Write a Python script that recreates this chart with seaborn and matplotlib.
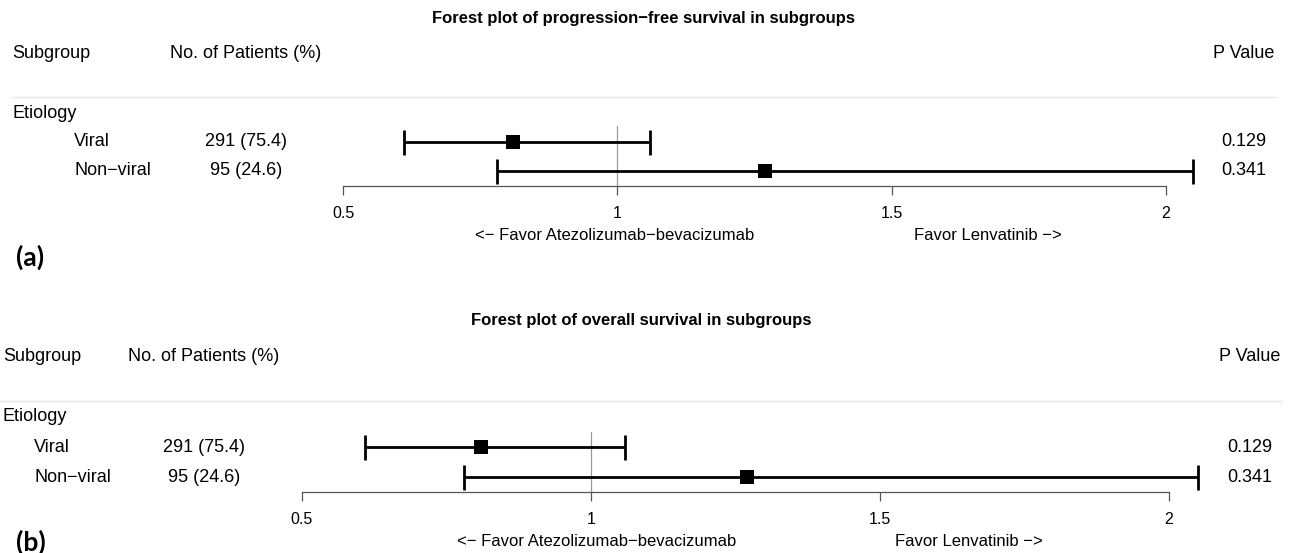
import matplotlib
matplotlib.use("Agg")
import matplotlib.pyplot as plt
from matplotlib.lines import Line2D
import numpy as np
import pandas as pd
import seaborn as sns

W, H = 1293, 553

# ---- data -------------------------------------------------------------
group_label = "Etiology"
subgroups = ["Viral", "Non−viral"]
patients = ["291 (75.4)", "95 (24.6)"]
p_values = ["0.129", "0.341"]

pfs_hr = [0.81, 1.27]
pfs_lo = [0.61, 0.78]
pfs_hi = [1.06, 2.05]

os_hr = [0.81, 1.27]
os_lo = [0.61, 0.78]
os_hi = [1.06, 2.05]

x_ticks = [0.5, 1, 1.5, 2]
x_tick_labels = ["0.5", "1", "1.5", "2"]

titles = ["Forest plot of progression−free survival in subgroups",
          "Forest plot of overall survival in subgroups"]
panel_tags = ["(a)", "(b)"]

# ---- layout (figure pixels, measured from the top-left corner) ---------
panels = [
    dict(hr=pfs_hr, lo=pfs_lo, hi=pfs_hi,
         title_x=644, title_y=18, head_y=53, sep_y=97, sep_x=(12, 1276),
         rows=[113, 141.7, 170.7], axis_y=185.7, x_lo=343.3, x_hi=1165.7,
         col_group=12, col_sub=74, col_n=246, col_p=1243.5,
         favor_y=235, favor_l=614.5, favor_r=987.5, tag=(16, 257), ref_top=126),
    dict(hr=os_hr, lo=os_lo, hi=os_hi,
         title_x=641.5, title_y=320, head_y=356.7, sep_y=400.5, sep_x=(0, 1282),
         rows=[416.7, 447, 477.3], axis_y=491.7, x_lo=301.7, x_hi=1169,
         col_group=3, col_sub=34.3, col_n=204, col_p=1250,
         favor_y=541.7, favor_l=597, favor_r=969, tag=(16, 542), ref_top=431.7),
]

sns.set_theme(style="white")
plt.rcParams["font.family"] = ["Liberation Sans", "DejaVu Sans"]

fig = plt.figure(figsize=(W / 100, H / 100), dpi=100)

BODY = 13
TICK = 11.5
FAVOR = 12


def put(x, y, s, **kw):
    kw.setdefault("va", "center")
    kw.setdefault("fontsize", BODY)
    kw.setdefault("color", "black")
    fig.text(x / W, 1 - y / H, s, **kw)


for P, title, tag in zip(panels, titles, panel_tags):
    # header and text columns
    put(P["title_x"], P["title_y"], title, ha="center", fontsize=12,
        fontweight="bold")
    put(P["col_group"], P["head_y"], "Subgroup", ha="left")
    put(P["col_n"], P["head_y"], "No. of Patients (%)", ha="center")
    put(P["col_p"], P["head_y"], "P Value", ha="center")
    fig.add_artist(Line2D([P["sep_x"][0] / W, P["sep_x"][1] / W],
                          [1 - P["sep_y"] / H] * 2,
                          color="#e8e8e8", lw=1.0))
    put(P["col_group"], P["rows"][0], group_label, ha="left")
    for y, name, n, p in zip(P["rows"][1:], subgroups, patients, p_values):
        put(P["col_sub"], y, name, ha="left")
        put(P["col_n"], y, n, ha="center")
        put(P["col_p"], y, p, ha="center")

    # forest axes: x in hazard-ratio units, y in figure pixel rows
    ax = fig.add_axes([P["x_lo"] / W, 1 - P["axis_y"] / H,
                       (P["x_hi"] - P["x_lo"]) / W,
                       (P["axis_y"] - P["sep_y"]) / H])

    # reference line at HR = 1
    ax.plot([1, 1], [P["ref_top"], P["axis_y"]], color="#9a9a9a", lw=0.9,
            zorder=1, clip_on=False)

    df = pd.DataFrame({"hr": P["hr"], "lo": P["lo"], "hi": P["hi"],
                       "row": P["rows"][1:]})
    cont = ax.errorbar(df["hr"], df["row"],
                       xerr=[df["hr"] - df["lo"], df["hi"] - df["hr"]],
                       fmt="none", ecolor="black", elinewidth=2.0,
                       capsize=9.0, capthick=2.0, zorder=2)
    for art in list(cont.lines[1]) + list(cont.lines[2]):
        art.set_clip_on(False)
    sns.scatterplot(data=df, x="hr", y="row", marker="s", s=112,
                    color="black", linewidth=0, ax=ax, zorder=3,
                    legend=False, clip_on=False)

    ax.set_xlim(0.5, 2.0)
    ax.set_ylim(P["axis_y"], P["sep_y"])
    ax.patch.set_alpha(0)
    for side in ["top", "left", "right"]:
        ax.spines[side].set_visible(False)
    ax.spines["bottom"].set_color("#555555")
    ax.spines["bottom"].set_linewidth(0.9)
    ax.set_yticks([])
    ax.set_xticks(x_ticks)
    ax.set_xticklabels(x_tick_labels)
    ax.tick_params(axis="x", direction="out", length=6.7, width=0.9,
                   color="#555555", pad=8.0, bottom=True, labelsize=TICK,
                   labelcolor="black")
    ax.set_xlabel("")
    ax.set_ylabel("")

    put(P["favor_l"], P["favor_y"], "<− Favor Atezolizumab−bevacizumab",
        ha="center", fontsize=FAVOR)
    put(P["favor_r"], P["favor_y"], "Favor Lenvatinib −>",
        ha="center", fontsize=FAVOR)

    put(P["tag"][0], P["tag"][1], tag, ha="left", fontsize=19,
        fontweight="bold", family=["Lato", "DejaVu Sans"])

fig.savefig("out.png", dpi=100)
